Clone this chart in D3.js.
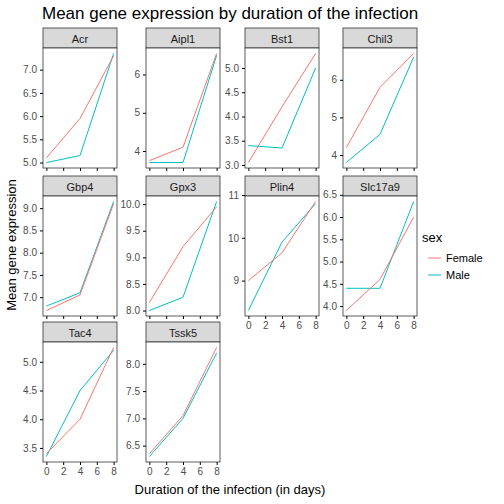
<!DOCTYPE html><html><head><script src="https://cdn.jsdelivr.net/npm/d3@7"></script>
<style>body{margin:0}text{font-family:"Liberation Sans",Arial,sans-serif}</style></head><body><svg width="504" height="504"></svg>
<script>
const days=[0,4,8];
const genes=["Acr","Aipl1","Bst1","Chil3","Gbp4","Gpx3","Plin4","Slc17a9","Tac4","Tssk5"];
const female=[[5.1,5.95,7.3],[3.75,4.1,6.55],[3.05,4.2,5.3],[4.2,5.8,6.7],[6.7,7.05,9.1],[8.15,9.2,9.95],[9.0,9.65,10.85],[3.9,4.6,6.0],[3.4,4.0,5.25],[6.35,7.05,8.3]];
const male=[[5.0,5.15,7.35],[3.7,3.7,6.5],[3.4,3.35,5.0],[3.8,4.55,6.6],[6.8,7.1,9.15],[8.0,8.25,10.05],[8.3,9.9,10.8],[4.4,4.4,6.35],[3.35,4.5,5.2],[6.3,7.0,8.2]];
const yTicks=[["5.0","5.5","6.0","6.5","7.0"],["4","5","6"],["3.0","3.5","4.0","4.5","5.0"],["4","5","6"],["7.0","7.5","8.0","8.5","9.0"],["8.0","8.5","9.0","9.5","10.0"],["9","10","11"],["4.0","4.5","5.0","5.5","6.0","6.5"],["3.5","4.0","4.5","5.0"],["6.5","7.0","7.5","8.0"]];
const xTicks=[0,2,4,6,8];
const colF="#F8766D",colM="#00BFC4";
const svg=d3.select("svg");
svg.append("rect").attr("width",504).attr("height",504).attr("fill","white");
svg.append("text").attr("x",42).attr("y",19).attr("font-size",17).text("Mean gene expression by duration of the infection");
const lefts=[43,146,245,343],stripTops=[28,176,322],W=74,SH=20,PH=120;
genes.forEach((g,i)=>{
 const c=i%4,r=Math.floor(i/4),L=lefts[c],T=stripTops[r]+SH;
 const x=d3.scaleLinear().domain([-0.4,8.4]).range([L,L+W]);
 const all=female[i].concat(male[i]);const ext=d3.extent(all),pad=(ext[1]-ext[0])*0.05;
 const y=d3.scaleLinear().domain([ext[0]-pad,ext[1]+pad]).range([T+PH,T]);
 svg.append("rect").attr("x",L).attr("y",stripTops[r]).attr("width",W).attr("height",SH).attr("fill","#d9d9d9").attr("stroke","#333").attr("stroke-width",0.8);
 svg.append("text").attr("x",L+W/2).attr("y",stripTops[r]+14.5).attr("text-anchor","middle").attr("font-size",11).attr("fill","#1a1a1a").text(g);
 svg.append("rect").attr("x",L).attr("y",T).attr("width",W).attr("height",PH).attr("fill","white");
 const line=d3.line().x((d,j)=>x(days[j])).y(d=>y(d));
 [[male[i],colM],[female[i],colF]].forEach(([v,col])=>svg.append("path").attr("d",line(v)).attr("fill","none").attr("stroke",col).attr("stroke-width",1));
 svg.append("rect").attr("x",L).attr("y",T).attr("width",W).attr("height",PH).attr("fill","none").attr("stroke","#333").attr("stroke-width",0.8);
 const ya=svg.append("g").attr("transform",`translate(${L},0)`).call(d3.axisLeft(y).tickValues(yTicks[i].map(Number)).tickSize(3).tickFormat((d,k)=>yTicks[i][k]));
 ya.selectAll("text").attr("font-size",10).attr("fill","#4d4d4d");
 ya.select(".domain").remove();
 const showX=(i>=6);
 const xa=svg.append("g").attr("transform",`translate(0,${T+PH})`).call(d3.axisBottom(x).tickValues(xTicks).tickSize(3).tickFormat(showX?d3.format("d"):""));
 xa.selectAll("text").attr("font-size",10).attr("fill","#4d4d4d");
 xa.select(".domain").remove();
});
svg.append("text").attr("transform","translate(16,245) rotate(-90)").attr("text-anchor","middle").attr("font-size",13).text("Mean gene expression");
svg.append("text").attr("x",230).attr("y",494).attr("text-anchor","middle").attr("font-size",13).text("Duration of the infection (in days)");
svg.append("text").attr("x",422).attr("y",242).attr("font-size",13).text("sex");
[["Female",colF,258],["Male",colM,275]].forEach(([n,c,yy])=>{
 svg.append("line").attr("x1",428).attr("x2",441).attr("y1",yy).attr("y2",yy).attr("stroke",c);
 svg.append("text").attr("x",446).attr("y",yy+4).attr("font-size",11).text(n);
});
</script></body></html>
